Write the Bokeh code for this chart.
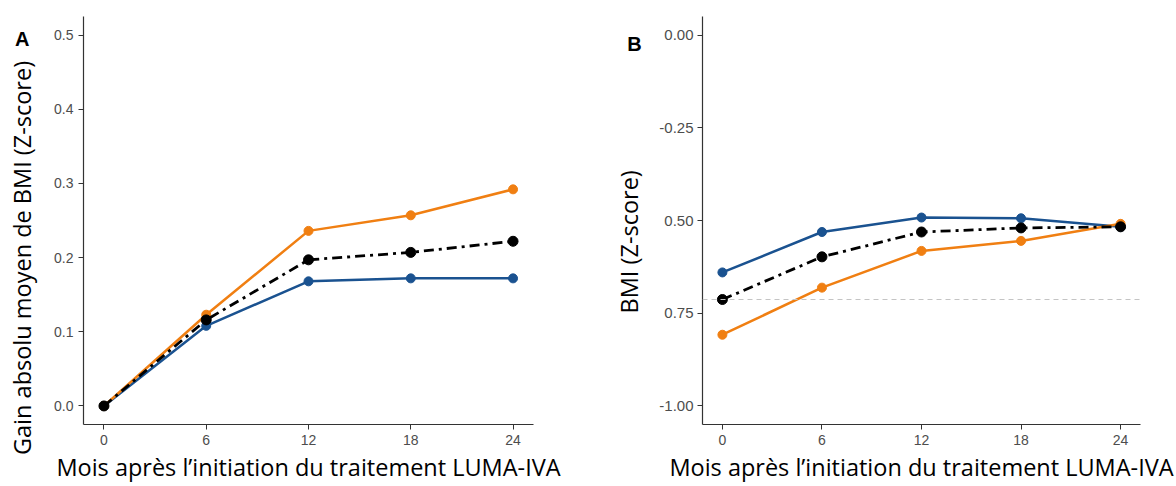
import math
from bokeh.plotting import figure
from bokeh.layouts import row
from bokeh.models import Span, Label, FixedTicker, Range1d
from bokeh.embed import file_html
from bokeh.resources import INLINE

months = [0, 6, 12, 18, 24]

# Panel A: mean absolute BMI gain (Z-score)
gain_orange = [0.0, 0.123, 0.236, 0.257, 0.292]
gain_black = [0.0, 0.116, 0.197, 0.207, 0.222]
gain_blue = [0.0, 0.108, 0.168, 0.172, 0.172]

# Panel B: BMI (Z-score)
bmi_blue = [-0.640, -0.531, -0.492, -0.494, -0.517]
bmi_black = [-0.713, -0.598, -0.531, -0.520, -0.517]
bmi_orange = [-0.808, -0.681, -0.582, -0.555, -0.509]

a_ticks = [0.0, 0.1, 0.2, 0.3, 0.4, 0.5]
b_ticks = [0.0, -0.25, -0.5, -0.75, -1.0]
b_tick_labels = ["0.00", "-0.25", "0.50", "0.75", "-1.00"]

x_title = "Mois après l\u2019initiation du traitement LUMA-IVA"
a_y_title = "Gain absolu moyen de BMI (Z-score)"
b_y_title = "BMI (Z-score)"
NBSP = "\u00a0"

ORANGE = "#F07F12"
BLUE = "#1A5290"
BLACK = "#000000"
TICK_COLOR = "#4D4D4D"
AXIS_COLOR = "#333333"
TITLE_FONT = "Open Sans"
TICK_FONT = "Liberation Sans"


def style(p, ytick_size):
    p.xgrid.visible = False
    p.ygrid.visible = False
    p.outline_line_color = None
    p.background_fill_color = "white"
    p.border_fill_color = "white"
    for ax in (p.xaxis[0], p.yaxis[0]):
        ax.axis_line_color = AXIS_COLOR
        ax.axis_line_width = 1.2
        ax.major_tick_line_color = AXIS_COLOR
        ax.major_tick_in = 0
        ax.major_tick_out = 5
        ax.minor_tick_line_color = None
        ax.major_label_text_color = TICK_COLOR
        ax.major_label_text_font = TICK_FONT
        ax.major_label_standoff = 5
        ax.axis_label_text_font = TITLE_FONT
        ax.axis_label_text_font_size = "23.5px"
        ax.axis_label_text_font_style = "normal"
        ax.axis_label_text_color = "black"
    p.yaxis[0].major_label_text_font_size = ytick_size
    p.xaxis[0].major_label_text_font_size = "14px"
    p.xaxis[0].ticker = FixedTicker(ticks=months)
    p.xaxis[0].axis_label = x_title
    p.xaxis[0].axis_label_standoff = 3


def series(p, y, color, dash="solid", width=2.5, size=9):
    p.line(months, y, line_color=color, line_width=width, line_dash=dash)
    p.scatter(months, y, size=size, fill_color=color, line_color=color)


def panel_letter(p, letter, x, y, side):
    p.add_layout(Label(x=x, y=y, text=letter, text_font=TICK_FONT, text_font_style="bold",
                       text_font_size="20px", text_align="center", text_baseline="middle",
                       text_color="black"), side)


# ---------- Panel A ----------
pa = figure(width=590, height=486, output_backend="svg", toolbar_location=None,
            x_range=Range1d(-1.2, 25.2), y_range=Range1d(-0.025, 0.525),
            min_border_left=83, min_border_right=57, min_border_top=16, min_border_bottom=62)
style(pa, "14px")
pa.yaxis[0].ticker = FixedTicker(ticks=a_ticks)
pa.yaxis[0].major_label_overrides = {t: f"{t:.1f}" for t in a_ticks}
series(pa, gain_blue, BLUE)
series(pa, gain_orange, ORANGE)
series(pa, gain_black, BLACK, dash="10 5 3 5", width=2.8, size=10)
panel_letter(pa, "A", -4.80, 0.495, "left")
# y-axis title of panel A (placed lower than the axis centre, as in the original)
pa.add_layout(Label(x=-4.78, y=0.1995, text=a_y_title, angle=math.pi / 2,
                    text_font=TITLE_FONT, text_font_size="23.5px", text_color="black",
                    text_align="center", text_baseline="middle"), "right")

# ---------- Panel B ----------
pb = figure(width=586, height=486, output_backend="svg", toolbar_location=None,
            x_range=Range1d(-1.2, 25.2), y_range=Range1d(-1.05, 0.05),
            min_border_left=112, min_border_right=36, min_border_top=16, min_border_bottom=62)
style(pb, "15px")
pb.yaxis[0].ticker = FixedTicker(ticks=b_ticks)
pb.yaxis[0].major_label_overrides = dict(zip(b_ticks, b_tick_labels))
pb.yaxis[0].major_label_standoff = 4
pb.yaxis[0].axis_label = b_y_title + NBSP * 7
pb.yaxis[0].axis_label_standoff = 11
pb.add_layout(Span(location=bmi_black[0], dimension="width", line_color="#C4C4C4",
                   line_width=1.2, line_dash="5 4"))
series(pb, bmi_blue, BLUE)
series(pb, bmi_orange, ORANGE)
series(pb, bmi_black, BLACK, dash="10 5 3 5", width=2.8, size=10)
panel_letter(pb, "B", -5.30, -0.0248, "right")

layout = row(pa, pb)
open("out.html", "w").write(file_html(layout, INLINE))
